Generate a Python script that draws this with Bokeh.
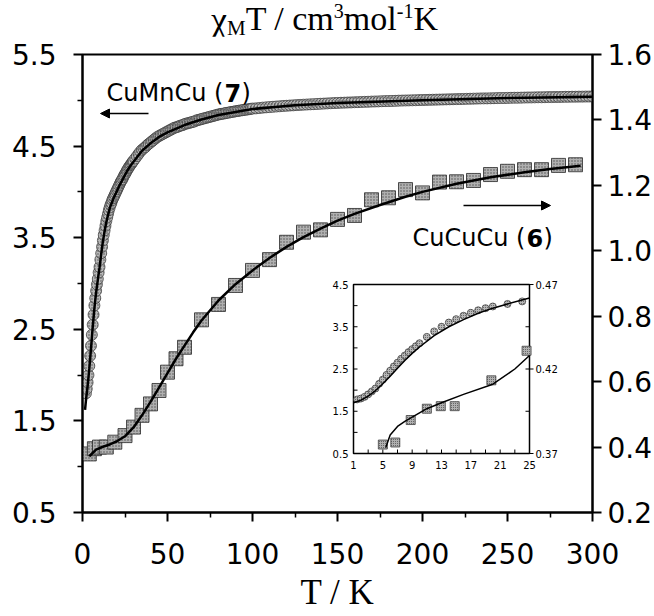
from bokeh.plotting import figure
from bokeh.layouts import column
from bokeh.models import Range1d, LinearAxis, FixedTicker, Label, Arrow, NormalHead, Div
from bokeh.core.properties import value
from bokeh.embed import file_html
from bokeh.resources import INLINE

# ---------------- data ----------------
# CuMnCu (7): chi_M*T (left axis)
T_mn = [2.0, 2.5, 3.0, 3.5, 4.0, 4.5, 5.0, 5.5, 6.0, 6.5, 7.0, 7.5, 8.0, 8.5, 9.0,
        9.5, 10.0, 10.5, 11.0, 11.5, 12.0, 12.5, 13.0, 13.5, 14.0, 14.5, 15.0,
        15.5, 16.0, 16.5, 17.0, 17.5, 18.0, 18.5, 19.0, 19.5, 20.0, 20.5, 21.0,
        21.5, 22.0, 22.5, 23.0, 23.5, 24.0, 24.5, 25.0, 25.5, 26.0, 26.5, 27.0,
        27.5, 28.0, 28.5, 29.0, 29.5, 30.0,
        31, 32, 33, 34, 35, 36, 37, 38, 39, 40, 41, 42, 43, 44, 45, 46, 47, 48,
        49, 50, 51, 52, 53, 54, 55, 56, 57, 58, 59, 60, 61, 62, 63, 64, 65, 66,
        67, 68, 69, 70, 71, 72, 73, 74, 75, 76, 77, 78, 79, 80, 81, 82, 83, 84,
        85, 86, 87, 88, 89, 90, 91, 92, 93, 94, 95, 96, 97, 98, 99, 100,
        102, 104, 106, 108, 110, 112, 114, 116, 118, 120,
        122, 124, 126, 128, 130, 132, 134, 136, 138, 140,
        142, 144, 146, 148, 150, 152, 154, 156, 158, 160,
        162, 164, 166, 168, 170, 172, 174, 176, 178, 180,
        182, 184, 186, 188, 190, 192, 194, 196, 198, 200,
        202, 204, 206, 208, 210, 212, 214, 216, 218, 220,
        222, 224, 226, 228, 230, 232, 234, 236, 238, 240,
        242, 244, 246, 248, 250, 252, 254, 256, 258, 260,
        262, 264, 266, 268, 270, 272, 274, 276, 278, 280,
        282, 284, 286, 288, 290, 292, 294, 296, 298, 300]
chi_mn = [1.80, 1.85, 1.92, 2.00, 2.10, 2.21, 2.32, 2.44, 2.55, 2.66, 2.76, 2.84,
          2.92, 2.99, 3.05, 3.12, 3.18, 3.26, 3.33, 3.40, 3.47, 3.53, 3.58, 3.63,
          3.68, 3.72, 3.76, 3.80, 3.83, 3.86, 3.88, 3.91, 3.93, 3.95, 3.97, 3.99,
          4.01, 4.03, 4.05, 4.07, 4.09, 4.11, 4.125, 4.14, 4.16, 4.18, 4.195, 4.21,
          4.23, 4.245, 4.26, 4.275, 4.29, 4.30, 4.315, 4.33, 4.34,
          4.365, 4.39, 4.415, 4.44, 4.46, 4.475, 4.49, 4.51, 4.525, 4.54, 4.555,
          4.57, 4.585, 4.60, 4.61, 4.62, 4.63, 4.64, 4.65, 4.66, 4.67, 4.68, 4.69,
          4.70, 4.705, 4.71, 4.72, 4.725, 4.73, 4.74, 4.745, 4.75, 4.755, 4.76,
          4.765, 4.77, 4.78, 4.785, 4.79, 4.795, 4.80, 4.805, 4.81, 4.815, 4.82,
          4.825, 4.83, 4.835, 4.84, 4.845, 4.85, 4.852, 4.855, 4.86, 4.863, 4.866,
          4.87, 4.873, 4.876, 4.88, 4.883, 4.886, 4.889, 4.892, 4.895, 4.898, 4.90,
          4.903, 4.906, 4.91,
          4.912, 4.916, 4.92, 4.923, 4.926, 4.929, 4.932, 4.935, 4.938, 4.94,
          4.943, 4.945, 4.948, 4.95, 4.952, 4.954, 4.956, 4.958, 4.96, 4.962,
          4.964, 4.966, 4.968, 4.97, 4.971, 4.973, 4.974, 4.976, 4.977, 4.979,
          4.98, 4.982, 4.983, 4.984, 4.986, 4.987, 4.988, 4.99, 4.991, 4.992,
          4.993, 4.994, 4.996, 4.997, 4.998, 4.999, 5.0, 5.001, 5.002, 5.003,
          5.004, 5.005, 5.006, 5.007, 5.008, 5.009, 5.01, 5.011, 5.012, 5.013,
          5.014, 5.015, 5.016, 5.017, 5.018, 5.019, 5.02, 5.021, 5.021, 5.022,
          5.023, 5.024, 5.025, 5.025, 5.026, 5.027, 5.028, 5.028, 5.029, 5.03,
          5.031, 5.031, 5.032, 5.033, 5.033, 5.034, 5.035, 5.035, 5.036, 5.036,
          5.037, 5.038, 5.038, 5.039, 5.039, 5.04, 5.04, 5.041, 5.041, 5.042]
T_mn_fit = [1.5, 2, 3, 4, 5, 6, 7, 8, 9, 10, 11, 12, 13, 14, 16, 18, 20, 22, 24,
            26, 28, 30, 35, 40, 45, 50, 60, 70, 80, 100, 125, 150, 200, 250, 300]
chi_mn_fit = [1.62, 1.72, 1.88, 2.07, 2.29, 2.52, 2.73, 2.90, 3.04, 3.17, 3.32,
              3.46, 3.57, 3.67, 3.82, 3.92, 4.00, 4.08, 4.15, 4.22, 4.28, 4.33,
              4.45, 4.53, 4.60, 4.65, 4.73, 4.79, 4.84, 4.905, 4.945, 4.97, 5.0,
              5.025, 5.04]

# CuCuCu (6): chi_M*T (right axis)
T_cu = [4, 7, 10, 14, 19, 25, 30, 35, 40, 45, 50, 55, 60, 70, 80, 90, 100, 110,
        120, 130, 140, 150, 160, 170, 180, 190, 200, 210, 220, 230, 240, 250,
        260, 270, 280, 290]
chi_cu = [0.379, 0.395, 0.400, 0.400, 0.415, 0.435, 0.461, 0.497, 0.532, 0.573,
          0.629, 0.670, 0.705, 0.789, 0.836, 0.894, 0.940, 0.973, 1.026, 1.057,
          1.064, 1.096, 1.108, 1.156, 1.162, 1.187, 1.177, 1.210, 1.211, 1.215,
          1.233, 1.243, 1.248, 1.248, 1.261, 1.263]
T_cu_fit = [4, 8, 12, 16, 20, 25, 30, 35, 40, 45, 50, 55, 60, 65, 70, 80, 90, 100,
            110, 120, 130, 140, 150, 160, 175, 190, 200, 220, 240, 260, 275, 293]
chi_cu_fit = [0.372, 0.392, 0.401, 0.408, 0.417, 0.433, 0.46, 0.497, 0.538, 0.582,
              0.626, 0.67, 0.71, 0.75, 0.787, 0.848, 0.898, 0.94, 0.978, 1.012,
              1.042, 1.068, 1.092, 1.113, 1.14, 1.165, 1.18, 1.205, 1.225, 1.24,
              1.25, 1.26]

# inset (low temperature)
Ti_mn = [1.5, 2, 2.5, 3, 3.5, 4, 4.5, 5, 5.5, 6, 6.5, 7, 7.5, 8, 8.5, 9, 9.5, 10,
         11, 12, 13, 14, 15, 16, 17, 18, 19, 20, 22, 24]
chii_mn = [1.78, 1.80, 1.84, 1.90, 1.97, 2.04, 2.15, 2.25, 2.36, 2.46, 2.56, 2.65,
           2.74, 2.82, 2.90, 2.97, 3.04, 3.11, 3.26, 3.39, 3.50, 3.60, 3.68, 3.76,
           3.83, 3.89, 3.94, 3.98, 4.04, 4.10]
Ti_mn_fit = [1, 2, 3, 4, 5, 6, 7, 8, 9, 10, 12, 14, 16, 18, 20, 22, 25]
chii_mn_fit = [1.70, 1.76, 1.86, 1.99, 2.15, 2.33, 2.52, 2.70, 2.87, 3.02, 3.29,
               3.50, 3.67, 3.82, 3.94, 4.04, 4.18]
Ti_cu = [5, 6.7, 8.8, 11, 12.9, 14.8, 19.8, 24.6]
chii_cu = [0.3753, 0.3765, 0.3898, 0.3965, 0.398, 0.398, 0.4133, 0.4308]
Ti_cu_fit = [5.4, 6, 7, 8, 9, 11, 13, 16, 20, 23, 25]
chii_cu_fit = [0.3735, 0.381, 0.386, 0.389, 0.3915, 0.3965, 0.4, 0.405, 0.411,
               0.42, 0.428]

# ticks
x_major = [0, 50, 100, 150, 200, 250, 300]
x_minor = [25, 75, 125, 175, 225, 275]
yl_major = [0.5, 1.5, 2.5, 3.5, 4.5, 5.5]
yl_minor = [1.0, 2.0, 3.0, 4.0, 5.0]
yr_major = [0.2, 0.4, 0.6, 0.8, 1.0, 1.2, 1.4, 1.6]
ix_major = [1, 5, 9, 13, 17, 21, 25]
ix_minor = [3, 7, 11, 15, 19, 23]
iyl_major = [0.5, 1.5, 2.5, 3.5, 4.5]
iyl_minor = [1.0, 2.0, 3.0, 4.0]
iyr_major = [0.37, 0.42, 0.47]
iyr_minor = [0.395, 0.445]

# ---------------- layout constants (page pixels) ----------------
W = 654
TITLE_H = 36
FL, FR, FT, FB = 82, 592, 54, 512          # main frame
IL, IR, IT, IB = 353, 529, 284, 453        # inset frame
XMIN, XMAX, YMIN, YMAX = 0, 300, 0.5, 5.5

def xd(px):
    return XMIN + (px - FL) * (XMAX - XMIN) / (FR - FL)

def yd(py):
    return YMAX - (py - FT) * (YMAX - YMIN) / (FB - FT)

def ext_x(lo, hi):
    per = (hi - lo) / (IR - IL)
    return lo - (IL - FL) * per, hi + (FR - IR) * per

def ext_y(lo, hi):
    per = (hi - lo) / (IB - IT)
    return lo - (FB - IB) * per, hi + (IT - FT) * per

ix0, ix1 = ext_x(1, 25)
iyl0, iyl1 = ext_y(0.5, 4.5)
iyr0, iyr1 = ext_y(0.37, 0.47)

SERIF = "Liberation Serif"

# ---------------- title ----------------
title = Div(
    text='<span style="font-size:36px;line-height:30px;position:relative;top:2px">\u03c7</span>'
         '<span style="font-size:21px;line-height:14px;position:relative;top:5px">M</span>'
         'T / cm<span style="font-size:20px;line-height:20px;position:relative;top:-12px">3</span>mol'
         '<span style="font-size:20px;line-height:20px;position:relative;top:-12px">-1</span>K',
    width=W, height=TITLE_H,
    styles={"font-family": SERIF, "font-size": "34px", "line-height": "34px",
            "color": "black", "text-indent": "211px", "white-space": "nowrap",
            "margin": "0", "padding": "2px 0 0 0", "box-sizing": "border-box"})

# ---------------- main figure ----------------
p = figure(frame_width=FR - FL, frame_height=FB - FT,
           min_border_left=FL, min_border_right=W - FR,
           min_border_top=FT - TITLE_H, min_border_bottom=100,
           x_range=Range1d(XMIN, XMAX), y_range=Range1d(YMIN, YMAX),
           output_backend="svg", toolbar_location=None,
           background_fill_color="white", border_fill_color="white")
p.extra_y_ranges = {"right": Range1d(0.2, 1.6),
                    "iyl": Range1d(iyl0, iyl1),
                    "iyr": Range1d(iyr0, iyr1)}
p.extra_x_ranges = {"ix": Range1d(ix0, ix1)}
p.grid.visible = False
p.outline_line_color = "black"
p.outline_line_width = 2

TICK_FONT = "DejaVu Sans"

def style_axis(ax, standoff):
    ax.axis_line_width = 2
    ax.axis_line_color = "black"
    ax.major_tick_line_width = 2
    ax.minor_tick_line_width = 1.5
    ax.major_tick_in = 0
    ax.minor_tick_in = 0
    ax.major_tick_out = 9
    ax.minor_tick_out = 5
    ax.major_label_text_font = TICK_FONT
    ax.major_label_text_font_size = "28px"
    ax.major_label_text_color = "black"
    ax.major_label_standoff = standoff

p.xaxis.ticker = FixedTicker(ticks=x_major, minor_ticks=x_minor)
style_axis(p.xaxis[0], 21)
p.xaxis.axis_label = "T / K"
p.xaxis.axis_label_text_font = SERIF
p.xaxis.axis_label_text_font_style = "normal"
p.xaxis.axis_label_text_font_size = "35px"
p.xaxis.axis_label_text_color = "black"
p.xaxis.axis_label_standoff = 6

p.yaxis.ticker = FixedTicker(ticks=yl_major, minor_ticks=yl_minor)
style_axis(p.yaxis[0], 17)

rax = LinearAxis(y_range_name="right",
                 ticker=FixedTicker(ticks=yr_major, minor_ticks=[]))
style_axis(rax, 6)
rax.major_label_overrides = {v: f"{v:.1f}" for v in yr_major}
p.add_layout(rax, "right")

# ---------------- main glyphs ----------------
p.scatter(T_mn, chi_mn, marker="circle", size=11, fill_color="#b8b8b8",
          line_color="#333333", line_width=0.7,
          hatch_pattern="dot", hatch_color="#555555", hatch_scale=3, hatch_weight=0.6)
p.line(T_mn_fit, chi_mn_fit, line_color="black", line_width=2.5)

p.scatter(T_cu, chi_cu, y_range_name="right", marker="square", size=14,
          fill_color="#b0b0b0", line_color="#2a2a2a", line_width=0.8,
          hatch_pattern="dot", hatch_color="#505050", hatch_scale=3, hatch_weight=0.7)
p.line(T_cu_fit, chi_cu_fit, y_range_name="right", line_color="black", line_width=2.5)

# ---------------- inset ----------------
p.quad(left=[1], right=[25], bottom=[0.5], top=[4.5], x_range_name="ix",
       y_range_name="iyl", fill_color="white", line_color="black", line_width=1.5)

tick_x = 4 * 24 / (IR - IL)
tick_yl = 4 * 4 / (IB - IT)
ix_ticks = ix_major + ix_minor
p.segment(x0=ix_ticks, y0=[0.5] * len(ix_ticks), x1=ix_ticks,
          y1=[0.5 + tick_yl] * len(ix_ticks), x_range_name="ix", y_range_name="iyl",
          line_color="black", line_width=1)
iyl_ticks = iyl_major + iyl_minor
p.segment(x0=[1] * len(iyl_ticks), y0=iyl_ticks, x1=[1 + tick_x] * len(iyl_ticks),
          y1=iyl_ticks, x_range_name="ix", y_range_name="iyl",
          line_color="black", line_width=1)
iyr_ticks = iyr_major + iyr_minor
p.segment(x0=[25 - tick_x] * len(iyr_ticks), y0=iyr_ticks,
          x1=[25] * len(iyr_ticks), y1=iyr_ticks, x_range_name="ix",
          y_range_name="iyr", line_color="black", line_width=1)
p.segment(x0=[25] * len(iyr_major), y0=iyr_major,
          x1=[25 + tick_x] * len(iyr_major), y1=iyr_major, x_range_name="ix",
          y_range_name="iyr", line_color="black", line_width=1)

p.text(x=ix_major, y=[0.5] * len(ix_major), text=[str(v) for v in ix_major],
       x_range_name="ix", y_range_name="iyl", text_align="center",
       text_baseline="top", y_offset=7, text_font=value(TICK_FONT),
       text_font_size=value("10px"), text_color="black")
p.text(x=[1] * len(iyl_major), y=iyl_major, text=[f"{v:.1f}" for v in iyl_major],
       x_range_name="ix", y_range_name="iyl", text_align="right",
       text_baseline="middle", x_offset=-5, text_font=value(TICK_FONT),
       text_font_size=value("10px"), text_color="black")
p.text(x=[25] * len(iyr_major), y=iyr_major, text=[f"{v:.2f}" for v in iyr_major],
       x_range_name="ix", y_range_name="iyr", text_align="left",
       text_baseline="middle", x_offset=6, text_font=value(TICK_FONT),
       text_font_size=value("10px"), text_color="black")

p.scatter(Ti_mn, chii_mn, x_range_name="ix", y_range_name="iyl", marker="circle",
          size=7, fill_color="#b8b8b8", line_color="#333333", line_width=0.7,
          hatch_pattern="dot", hatch_color="#555555", hatch_scale=2, hatch_weight=0.5)
p.line(Ti_mn_fit, chii_mn_fit, x_range_name="ix", y_range_name="iyl",
       line_color="black", line_width=1.5)
p.scatter(Ti_cu, chii_cu, x_range_name="ix", y_range_name="iyr", marker="square",
          size=9, fill_color="#b0b0b0", line_color="#2a2a2a", line_width=0.7,
          hatch_pattern="dot", hatch_color="#505050", hatch_scale=2, hatch_weight=0.5)
p.line(Ti_cu_fit, chii_cu_fit, x_range_name="ix", y_range_name="iyr",
       line_color="black", line_width=1.5)

# ---------------- series labels ----------------
LAB_FS = "24px"

def compound_label(px, py, name, num, w_name, w_num):
    p.add_layout(Label(x=xd(px), y=yd(py), text=name, text_font=TICK_FONT,
                       text_font_size=LAB_FS, text_baseline="alphabetic",
                       text_color="black"))
    p.add_layout(Label(x=xd(px), y=yd(py), x_offset=w_name, text=num,
                       text_font=TICK_FONT, text_font_size=LAB_FS,
                       text_font_style="bold", text_baseline="alphabetic",
                       text_color="black"))
    p.add_layout(Label(x=xd(px), y=yd(py), x_offset=w_name + w_num, text=")",
                       text_font=TICK_FONT, text_font_size=LAB_FS,
                       text_baseline="alphabetic", text_color="black"))

compound_label(106, 92, "CuMnCu (", "7", 118, 17)
compound_label(412, 237, "CuCuCu (", "6", 114, 17)

p.add_layout(Arrow(end=NormalHead(size=9, fill_color="black", line_color="black"),
                   x_start=xd(148), y_start=yd(113), x_end=xd(100), y_end=yd(113),
                   line_width=1.5, line_color="black"))
p.add_layout(Arrow(end=NormalHead(size=9, fill_color="black", line_color="black"),
                   x_start=xd(463), y_start=yd(205), x_end=xd(550), y_end=yd(205),
                   line_width=1.5, line_color="black"))

layout = column(title, p, spacing=0)
open("out.html", "w").write(file_html(layout, INLINE))
